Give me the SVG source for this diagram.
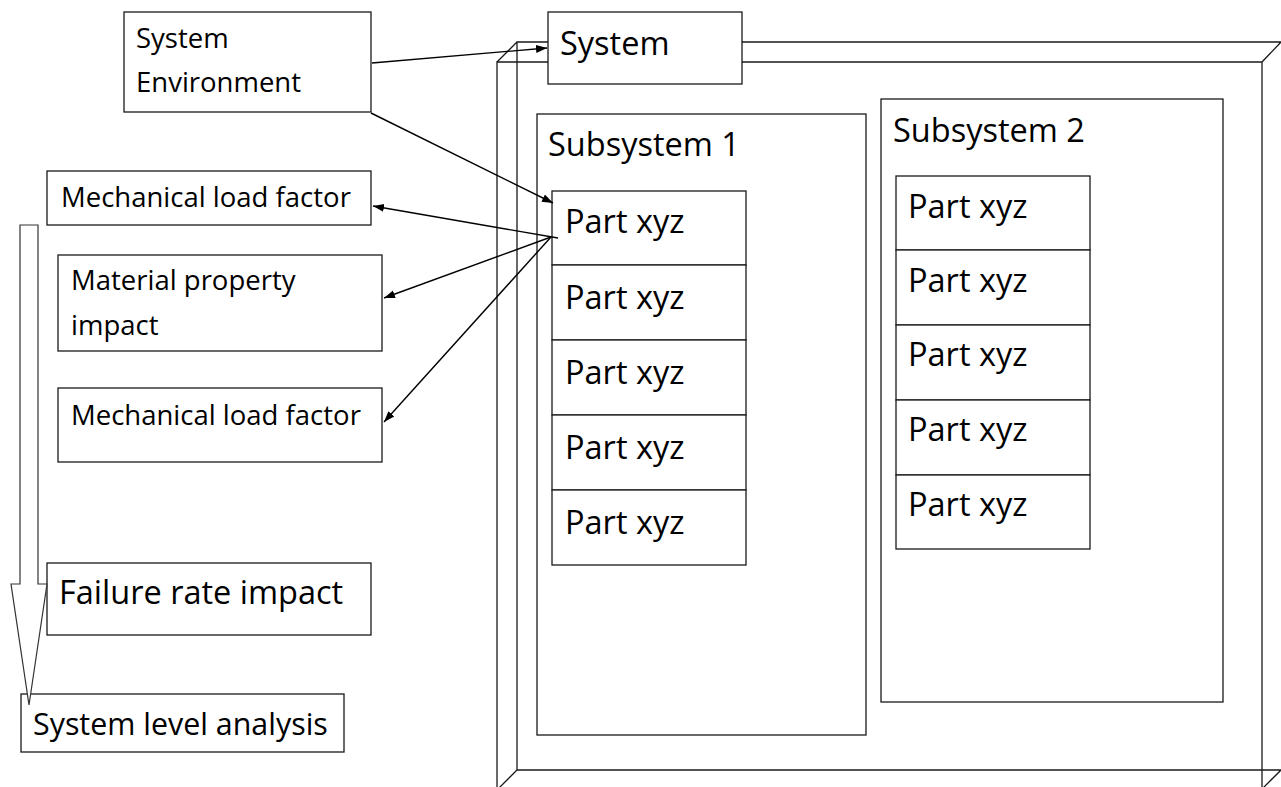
<svg xmlns="http://www.w3.org/2000/svg" width="1281" height="787" viewBox="0 0 1281 787">
<defs>
<style>
.box{fill:#fff;stroke:#1a1a1a;stroke-width:1.3}
.ln{fill:none;stroke:#1a1a1a;stroke-width:1.3}
.cn{fill:none;stroke:#000;stroke-width:1.4}
text{font-family:"Open Sans","DejaVu Sans",sans-serif;fill:#000}
.s{font-size:27.5px}
.m{font-size:32.5px}
.l{font-size:30.4px}
</style>
<marker id="ah" markerUnits="userSpaceOnUse" markerWidth="12" markerHeight="10" refX="11" refY="5" orient="auto">
<path d="M0,1 L11,5 L0,9 Z" fill="#000"/>
</marker>
</defs>
<rect width="1281" height="787" fill="#fff"/>

<g id="frame">
<path class="ln" d="M517,770 L517,42 L1281,42 M517,770 L1281,770 M517,42 L497,62 M1281,42 L1262,62 M517,770 L499,788 M1281,770 L1263,788"/>
<path class="ln" d="M497,790 L497,62 L1262,62 L1262,790"/>
</g>

<g id="system">
<rect class="box" x="548" y="12" width="194" height="72"/>
<text class="m" x="560" y="55">System</text>
</g>

<g id="subsystem1">
<rect class="box" x="537" y="114" width="329" height="621"/>
<text class="m" x="548" y="156">Subsystem 1</text>
</g>
<g id="subsystem2">
<rect class="box" x="881" y="99" width="342" height="603"/>
<text class="m" x="893" y="142">Subsystem 2</text>
</g>

<g id="s1p1"><rect class="box" x="552" y="191" width="194" height="74"/><text class="m" x="565" y="233">Part xyz</text></g>
<g id="s1p2"><rect class="box" x="552" y="265" width="194" height="75"/><text class="m" x="565" y="309">Part xyz</text></g>
<g id="s1p3"><rect class="box" x="552" y="340" width="194" height="75"/><text class="m" x="565" y="384">Part xyz</text></g>
<g id="s1p4"><rect class="box" x="552" y="415" width="194" height="75"/><text class="m" x="565" y="459">Part xyz</text></g>
<g id="s1p5"><rect class="box" x="552" y="490" width="194" height="75"/><text class="m" x="565" y="534">Part xyz</text></g>

<g id="s2p1"><rect class="box" x="896" y="176" width="194" height="74"/><text class="m" x="908" y="218">Part xyz</text></g>
<g id="s2p2"><rect class="box" x="896" y="250" width="194" height="75"/><text class="m" x="908" y="292">Part xyz</text></g>
<g id="s2p3"><rect class="box" x="896" y="325" width="194" height="75"/><text class="m" x="908" y="366">Part xyz</text></g>
<g id="s2p4"><rect class="box" x="896" y="400" width="194" height="75"/><text class="m" x="908" y="441">Part xyz</text></g>
<g id="s2p5"><rect class="box" x="896" y="475" width="194" height="74"/><text class="m" x="908" y="516">Part xyz</text></g>

<g id="env">
<rect class="box" x="124" y="12" width="247" height="100"/>
<text class="s" x="136" y="48">System</text>
<text class="s" x="136" y="92">Environment</text>
</g>

<g id="mech1">
<rect class="box" x="47" y="171" width="324" height="54"/>
<text class="s" x="61" y="207">Mechanical load factor</text>
</g>
<g id="material">
<rect class="box" x="58" y="255" width="324" height="96"/>
<text class="s" x="71" y="290">Material property</text>
<text class="s" x="71" y="335">impact</text>
</g>
<g id="mech2">
<rect class="box" x="58" y="388" width="324" height="74"/>
<text class="s" x="71" y="425">Mechanical load factor</text>
</g>

<g id="failure">
<rect class="box" x="47" y="563" width="324" height="72"/>
<text class="m" x="59" y="604">Failure rate impact</text>
</g>
<g id="syslevel">
<rect class="box" x="21" y="694" width="323" height="58"/>
<text class="l" x="33" y="735">System level analysis</text>
</g>

<g id="connectors">
<path class="box" d="M20,225 L38,225 L38,584 L47,584 L29,705 L11,584 L20,584 Z" style="stroke:#333;stroke-width:1.2"/>
<line class="cn" x1="372" y1="63" x2="547" y2="48" marker-end="url(#ah)"/>
<line class="cn" x1="371" y1="113" x2="553" y2="203" marker-end="url(#ah)"/>
<line class="cn" x1="558" y1="238" x2="373" y2="206" marker-end="url(#ah)"/>
<line class="cn" x1="551" y1="237" x2="384" y2="298" marker-end="url(#ah)"/>
<line class="cn" x1="551" y1="237" x2="384" y2="422" marker-end="url(#ah)"/>
</g>
</svg>
